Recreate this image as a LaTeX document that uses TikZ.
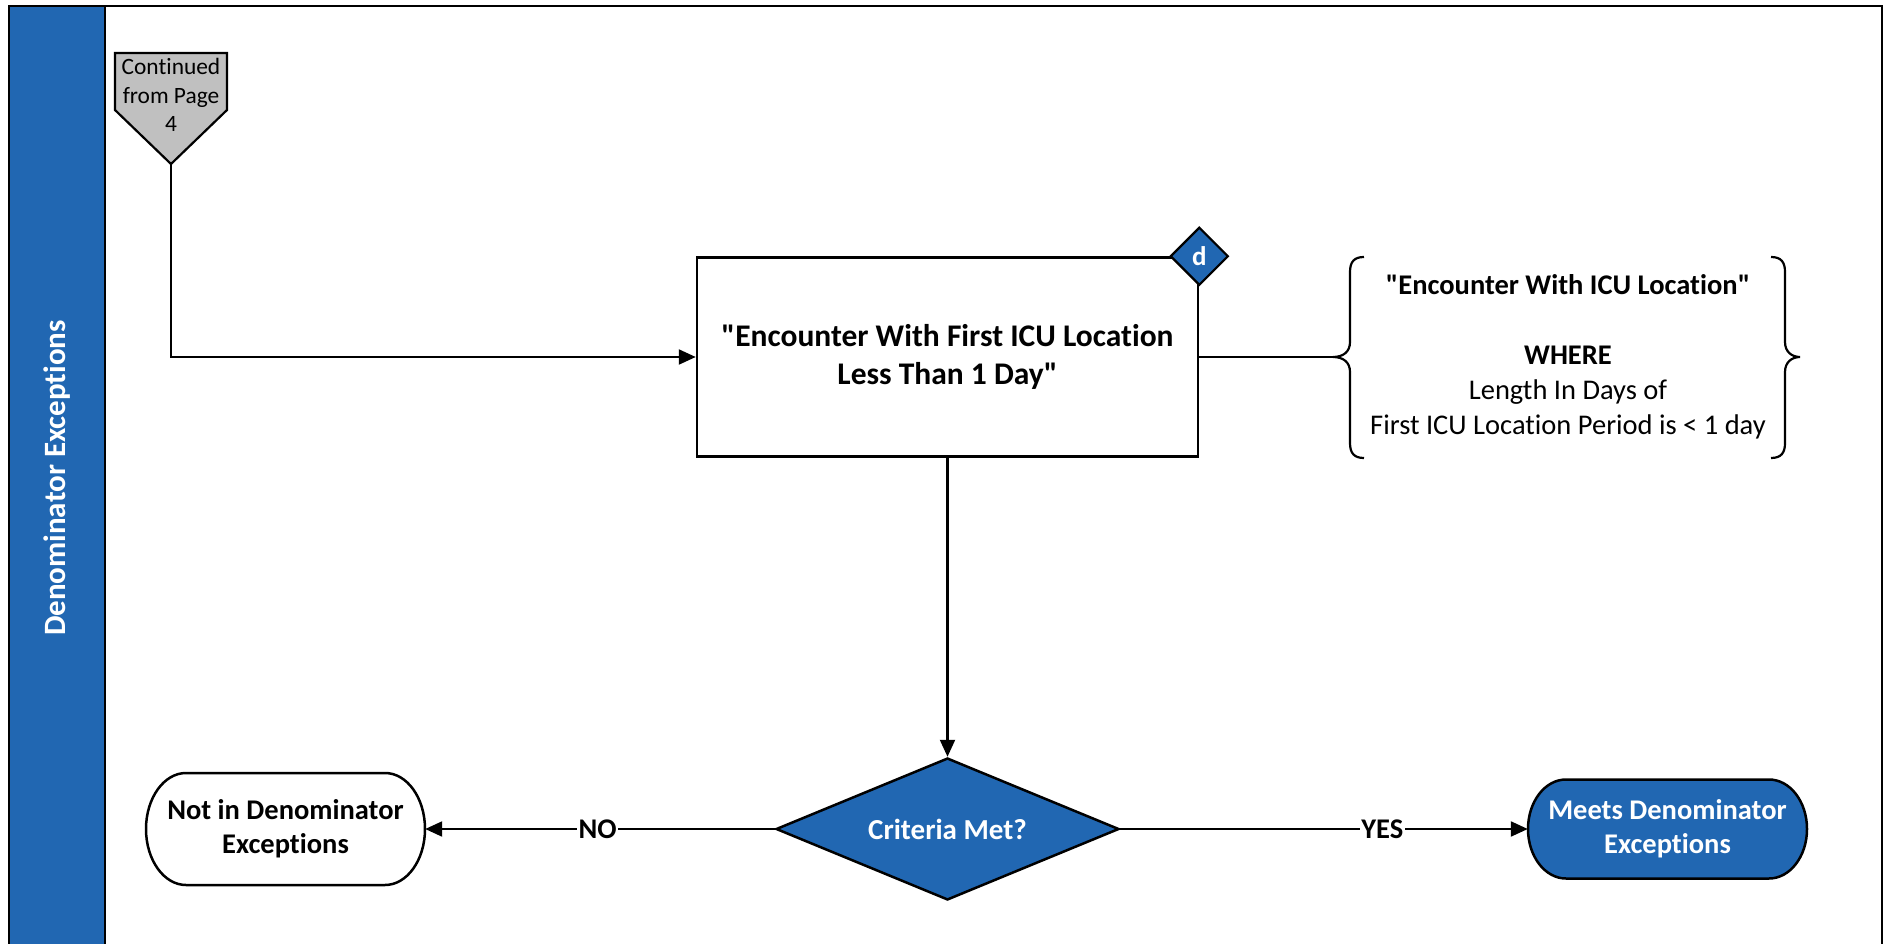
\documentclass[tikz,border=0pt]{standalone}
\usepackage{fontspec}
\setmainfont{Carlito}[Ligatures={TeXOff,NoCommon}]
\usetikzlibrary{arrows.meta,shapes.geometric}
\definecolor{laneblue}{RGB}{33,103,178}
\definecolor{contgray}{RGB}{192,192,192}
% terminator outline: cx, cy, half width, half height, cap radius
\newcommand\termpath[5]{%
 ({#1-#3+#5},{#2-#4}) -- ({#1+#3-#5},{#2-#4})
 .. controls ({#1+#3-#5+0.5523*#5},{#2-#4}) and ({#1+#3},{#2-0.5523*#4}) .. ({#1+#3},#2)
 .. controls ({#1+#3},{#2+0.5523*#4}) and ({#1+#3-#5+0.5523*#5},{#2+#4}) .. ({#1+#3-#5},{#2+#4})
 -- ({#1-#3+#5},{#2+#4})
 .. controls ({#1-#3+#5-0.5523*#5},{#2+#4}) and ({#1-#3},{#2+0.5523*#4}) .. ({#1-#3},#2)
 .. controls ({#1-#3},{#2-0.5523*#4}) and ({#1-#3+#5-0.5523*#5},{#2-#4}) .. cycle}
\begin{document}
\begin{tikzpicture}[x=1pt,y=-1pt,
  frameline/.style={line width=2.5pt},
  mainbox/.style={draw, line width=2.5pt, fill=white, minimum width=501pt, minimum height=199pt,
    inner sep=0pt, align=center, font=\bfseries\fontsize{31.5}{38}\selectfont},
  refmark/.style={diamond, draw, line width=2.2pt, fill=laneblue, text=white, aspect=1,
    minimum width=58pt, minimum height=58pt, inner sep=0pt, font=\bfseries\fontsize{27}{30}\selectfont},
  decision/.style={diamond, draw, line width=2.5pt, fill=laneblue, text=white, aspect=2.4,
    minimum width=343pt, minimum height=142pt, inner sep=0pt, font=\bfseries\fontsize{29}{35}\selectfont},
  termtext/.style={minimum width=279pt, inner sep=0pt, align=center,
    font=\bfseries\fontsize{28.5}{34}\selectfont},
  termline/.style={line width=2.5pt},
  conn/.style={line width=2.2pt},
  arr/.style={conn, -{Triangle[length=17pt,width=15pt]}},
  lbl/.style={fill=white, inner sep=1.5pt, font=\bfseries\fontsize{28.5}{34}\selectfont},
  bracetext/.style={align=center, inner sep=0pt, font=\fontsize{28.5}{35}\selectfont},
  conttext/.style={align=center, inner sep=0pt, font=\fontsize{23.4}{28.5}\selectfont},
  lanetext/.style={text=white, inner sep=0pt, font=\bfseries\fontsize{31}{36}\selectfont}
]
\useasboundingbox (0,0) rectangle (1885,944);
\fill[white] (0,0) rectangle (1885,944);

% frame and lane
\draw[frameline] (9,6) rectangle (1882,970);
\draw[frameline, fill=laneblue] (9,6) rectangle (105,970);
\node[lanetext, rotate=90] (lanelabel) at (57,478) {Denominator Exceptions};

% off-page connector
\draw[line width=2.2pt, fill=contgray] (115,53) -- (227,53) -- (227,110) -- (171,164) -- (115,110) -- cycle;
\node[conttext] (cont) at (171,95) {Continued\\from Page\\4};
\coordinate (conttip) at (171,164);

% main process box
\node[mainbox] (mainbox) at (947.5,357) {"Encounter With First ICU Location\\Less Than 1 Day"};
\node[refmark] (dmark) at (mainbox.north east) {d};

% brace annotation
\coordinate (bracetip) at (1333,357);
\draw[conn] (1364,257) .. controls (1354,257) and (1350,262) .. (1350,272) -- (1350,342)
  .. controls (1350,352) and (1343,357) .. (1333,357)
  .. controls (1343,357) and (1350,362) .. (1350,372) -- (1350,443)
  .. controls (1350,453) and (1354,458) .. (1364,458);
\draw[conn] (1771,257) .. controls (1781,257) and (1785,262) .. (1785,272) -- (1785,342)
  .. controls (1785,352) and (1792,357) .. (1800,357)
  .. controls (1792,357) and (1785,362) .. (1785,372) -- (1785,443)
  .. controls (1785,453) and (1781,458) .. (1771,458);
\node[bracetext] (bracenote) at (1568,357) {\textbf{"Encounter With ICU Location"}\\[35pt]
  \textbf{WHERE}\\Length In Days of\\First ICU Location Period is < 1 day};

% decision
\node[decision] (crit) at (947.5,829) {Criteria Met?};

% terminators
\draw[termline, fill=white] \termpath{285.5}{829}{139.5}{56}{40};
\node[termtext, minimum height=112pt] (notin) at (285.5,829) {Not in Denominator\\Exceptions};
\draw[termline, fill=laneblue] \termpath{1667.5}{829}{139.5}{49.5}{38};
\node[termtext, minimum height=99pt, text=white] (meets) at (1667.5,829) {Meets Denominator\\Exceptions};

% connectors
\draw[arr] (conttip) |- (mainbox.west);
\draw[conn] (mainbox.east) -- (bracetip);
\draw[arr] (mainbox.south) -- (crit.north);
\draw[arr] (crit.west) -- node[lbl, pos=0.507] {NO} (notin.east);
\draw[arr] (crit.east) -- node[lbl, pos=0.643] {YES} (meets.west);
\end{tikzpicture}
\end{document}
